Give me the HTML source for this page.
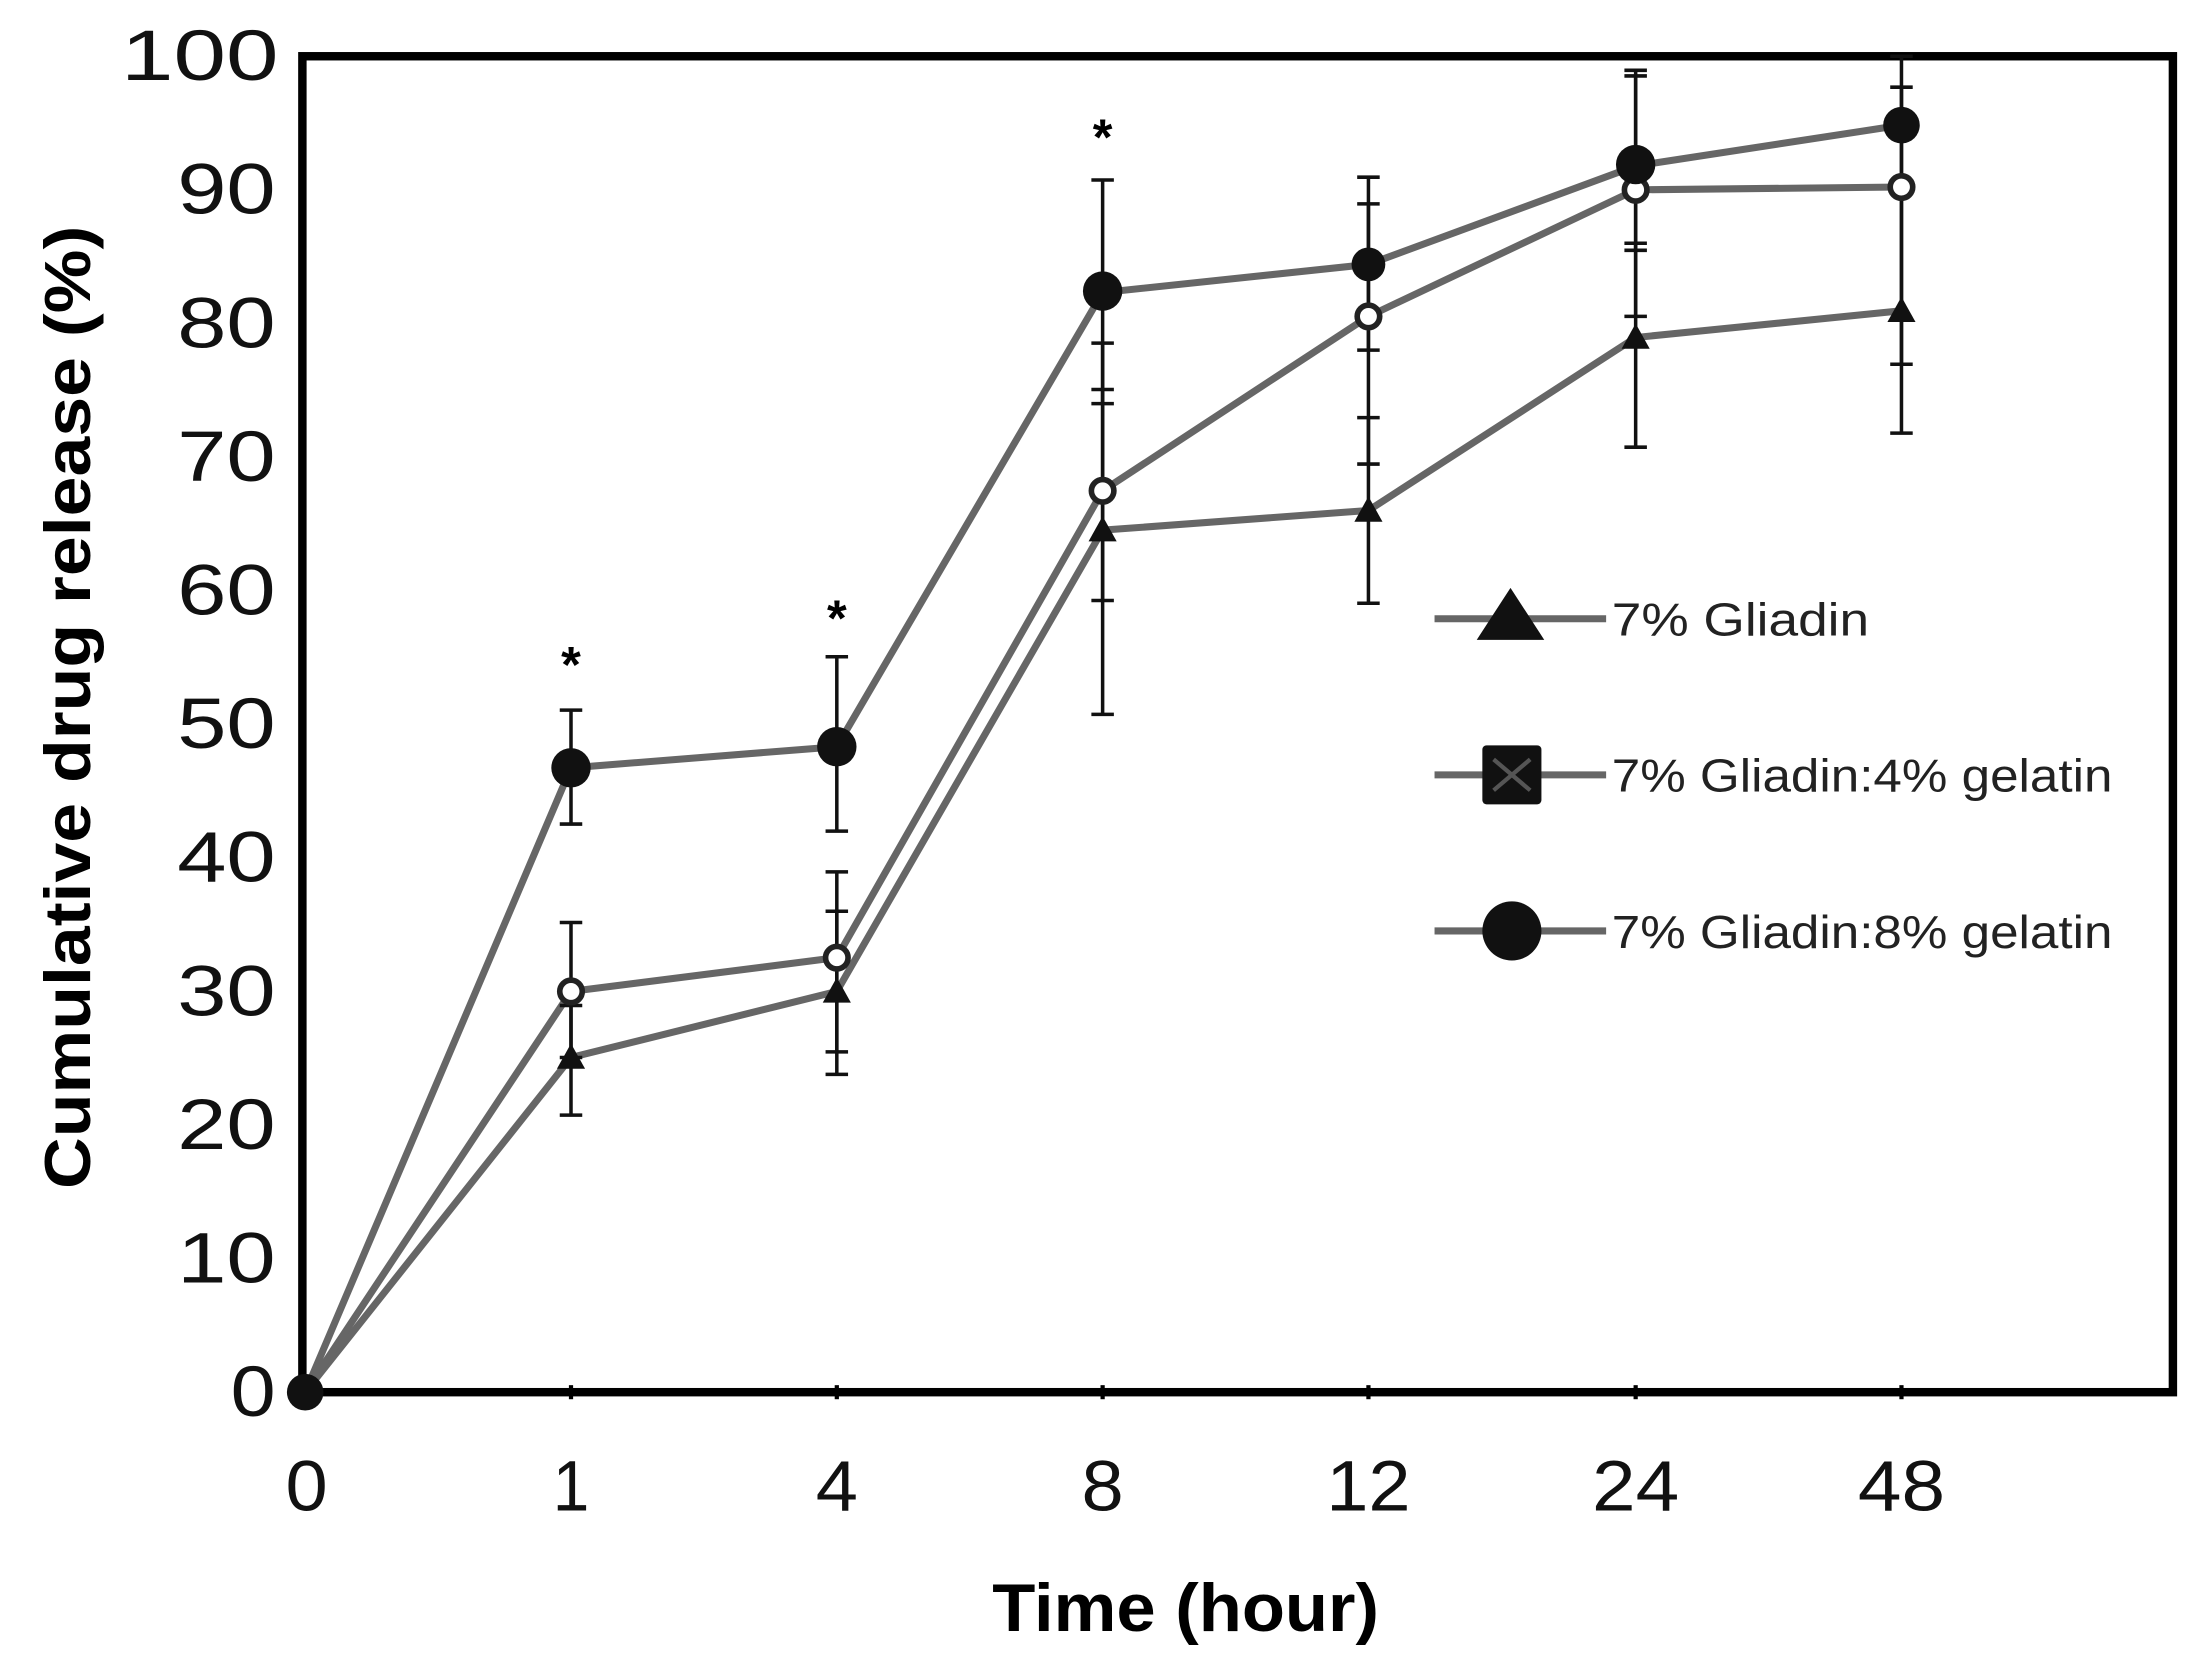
<!DOCTYPE html>
<html><head><style>html,body{margin:0;padding:0;background:#fff}svg{display:block}</style></head>
<body>
<svg width="2194" height="1665" viewBox="0 0 1560 1184" preserveAspectRatio="none" xmlns="http://www.w3.org/2000/svg" font-family="Liberation Sans, sans-serif">
<rect x="0" y="0" width="1560" height="1184" fill="#fff"/>
<rect x="215" y="40" width="1330" height="950" fill="none" stroke="#000" stroke-width="6"/>
<g font-size="51" text-anchor="end" fill="#111">
<text x="196" y="1007" textLength="32" lengthAdjust="spacingAndGlyphs">0</text>
<text x="196" y="912" textLength="70" lengthAdjust="spacingAndGlyphs">10</text>
<text x="196" y="817" textLength="70" lengthAdjust="spacingAndGlyphs">20</text>
<text x="196" y="722" textLength="70" lengthAdjust="spacingAndGlyphs">30</text>
<text x="196" y="627" textLength="70" lengthAdjust="spacingAndGlyphs">40</text>
<text x="196" y="532" textLength="70" lengthAdjust="spacingAndGlyphs">50</text>
<text x="196" y="437" textLength="70" lengthAdjust="spacingAndGlyphs">60</text>
<text x="196" y="342" textLength="70" lengthAdjust="spacingAndGlyphs">70</text>
<text x="196" y="247" textLength="70" lengthAdjust="spacingAndGlyphs">80</text>
<text x="196" y="152" textLength="70" lengthAdjust="spacingAndGlyphs">90</text>
<text x="198" y="57" textLength="112" lengthAdjust="spacingAndGlyphs">100</text>
</g>
<g font-size="51" text-anchor="middle" fill="#111">
<text x="218" y="1074" textLength="30" lengthAdjust="spacingAndGlyphs">0</text>
<text x="406" y="1074" textLength="26" lengthAdjust="spacingAndGlyphs">1</text>
<text x="595" y="1074" textLength="30" lengthAdjust="spacingAndGlyphs">4</text>
<text x="784" y="1074" textLength="30" lengthAdjust="spacingAndGlyphs">8</text>
<text x="973" y="1074" textLength="60" lengthAdjust="spacingAndGlyphs">12</text>
<text x="1163" y="1074" textLength="62" lengthAdjust="spacingAndGlyphs">24</text>
<text x="1352" y="1074" textLength="62" lengthAdjust="spacingAndGlyphs">48</text>
</g>
<text x="843" y="1160" font-size="48" font-weight="bold" text-anchor="middle" textLength="275" lengthAdjust="spacingAndGlyphs">Time (hour)</text>
<text transform="translate(64,503) rotate(-90)" font-size="46" font-weight="bold" text-anchor="middle" textLength="685" lengthAdjust="spacingAndGlyphs">Cumulative drug release (%)</text>
<g stroke="#000" stroke-width="3">
<line x1="406" y1="985" x2="406" y2="995"/><line x1="595" y1="985" x2="595" y2="995"/><line x1="784" y1="985" x2="784" y2="995"/><line x1="973" y1="985" x2="973" y2="995"/><line x1="1163" y1="985" x2="1163" y2="995"/><line x1="1352" y1="985" x2="1352" y2="995"/>
</g>
<g fill="none" stroke="#666" stroke-width="5">
<polyline points="217,990 406,752 595,705 784,377 973,363 1163,240 1352,221"/>
<polyline points="217,990 406,705 595,681 784,349 973,225 1163,135 1352,133"/>
<polyline points="217,990 406,546 595,531 784,208 973,188 1163,118 1352,89"/>
</g>
<g stroke="#111" stroke-width="2.5">
<path d="M406,793V715M398,793h16M398,715h16 M595,764V648M587,764h16M587,648h16 M784,508V244M776,508h16M776,244h16 M973,429V297M965,429h16M965,297h16 M1163,318V173M1155,318h16M1155,173h16 M1352,308V135M1344,308h16M1344,135h16"/>
<path d="M406,752V656M398,752h16M398,656h16 M595,748V620M587,748h16M587,620h16 M784,427V277M776,427h16M776,277h16 M973,330V126M965,330h16M965,126h16 M1163,225V54M1155,225h16M1155,54h16 M1352,259V40M1344,259h16M1344,40h16"/>
<path d="M406,586V505M398,586h16M398,505h16 M595,591V467M587,591h16M587,467h16 M784,287V128M776,287h16M776,128h16 M973,249V145M965,249h16M965,145h16 M1163,178V50M1155,178h16M1155,50h16 M1352,135V62M1344,135h16M1344,62h16"/>
</g>
<g fill="#111">
<polygon points="406,742 396,760 416,760"/><polygon points="595,695 585,713 605,713"/><polygon points="784,367 774,385 794,385"/><polygon points="973,353 963,371 983,371"/><polygon points="1163,230 1153,248 1173,248"/><polygon points="1352,211 1342,229 1362,229"/>
</g>
<g fill="#fff" stroke="#222" stroke-width="4">
<circle cx="406" cy="705" r="8"/><circle cx="595" cy="681" r="8"/><circle cx="784" cy="349" r="8"/><circle cx="973" cy="225" r="8"/><circle cx="1163" cy="135" r="8"/><circle cx="1352" cy="133" r="8"/>
</g>
<g fill="#111">
<circle cx="217" cy="990" r="13"/><circle cx="406" cy="546" r="14"/><circle cx="595" cy="531" r="14"/><circle cx="784" cy="207" r="14"/><circle cx="973" cy="188" r="12"/><circle cx="1163" cy="117" r="14"/><circle cx="1352" cy="89" r="13"/>
</g>
<g font-size="36" font-weight="bold" text-anchor="middle">
<text x="406" y="485">*</text><text x="595" y="452">*</text><text x="784" y="110">*</text>
</g>
<g stroke="#666" stroke-width="5">
<line x1="1020" y1="440" x2="1142" y2="440"/><line x1="1020" y1="551" x2="1142" y2="551"/><line x1="1020" y1="662" x2="1142" y2="662"/>
</g>
<polygon points="1074,418 1050,455 1098,455" fill="#111"/>
<rect x="1054" y="530" width="42" height="42" rx="3" fill="#111"/>
<path d="M1062,540L1088,562M1088,540L1062,562" stroke="#555" stroke-width="3"/>
<circle cx="1075" cy="662" r="21" fill="#111"/>
<g font-size="33" fill="#222">
<text x="1146" y="452" textLength="183" lengthAdjust="spacingAndGlyphs">7% Gliadin</text>
<text x="1146" y="563" textLength="356" lengthAdjust="spacingAndGlyphs">7% Gliadin:4% gelatin</text>
<text x="1146" y="674" textLength="356" lengthAdjust="spacingAndGlyphs">7% Gliadin:8% gelatin</text>
</g>
</svg>
</body></html>
